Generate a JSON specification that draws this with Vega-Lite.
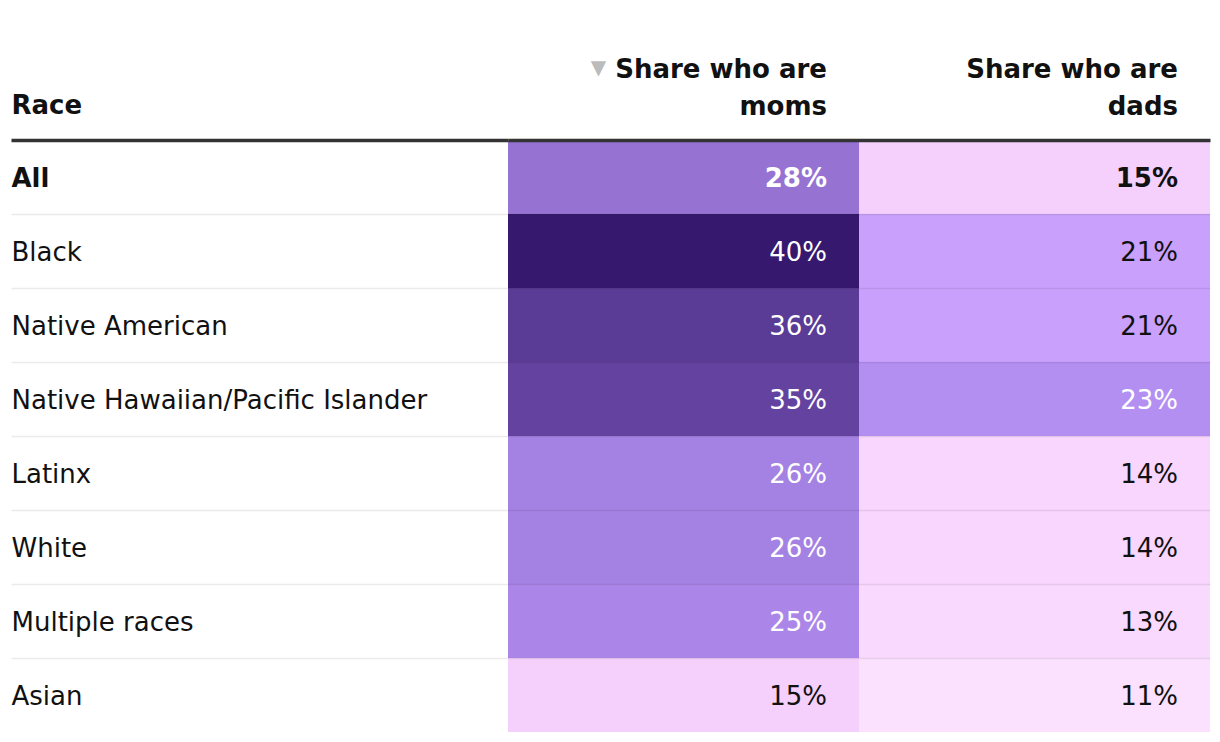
{
  "$schema": "https://vega.github.io/schema/vega-lite/v6.json",
  "autosize": {"type": "none"},
  "padding": {"left": 508, "top": 140, "right": 10, "bottom": 10},
  "width": 702,
  "height": 592,
  "background": "white",
  "config": {"view": {"stroke": null}, "font": "DejaVu Sans"},
  "data": {
    "values": [
      {"Race": "All", "moms": 0.28, "dads": 0.15},
      {"Race": "Black", "moms": 0.40, "dads": 0.21},
      {"Race": "Native American", "moms": 0.36, "dads": 0.21},
      {"Race": "Native Hawaiian/Pacific Islander", "moms": 0.35, "dads": 0.23},
      {"Race": "Latinx", "moms": 0.26, "dads": 0.14},
      {"Race": "White", "moms": 0.26, "dads": 0.14},
      {"Race": "Multiple races", "moms": 0.25, "dads": 0.13},
      {"Race": "Asian", "moms": 0.15, "dads": 0.11}
    ]
  },
  "transform": [{"fold": ["moms", "dads"], "as": ["metric", "value"]}],
  "encoding": {
    "y": {
      "field": "Race",
      "type": "nominal",
      "sort": ["All", "Black", "Native American", "Native Hawaiian/Pacific Islander", "Latinx", "White", "Multiple races", "Asian"],
      "scale": {"paddingInner": 0, "paddingOuter": 0},
      "axis": {
        "orient": "left",
        "zindex": 1,
        "domain": false,
        "bandPosition": 0,
        "ticks": true,
        "tickSize": 497,
        "tickColor": {"condition": {"test": "datum.value === 'All'", "value": "#333333"}, "value": "#000000"},
        "tickOpacity": {"condition": {"test": "datum.value === 'All'", "value": 1}, "value": 0.08},
        "tickWidth": {"condition": {"test": "datum.value === 'All'", "value": 3.5}, "value": 1.5},
        "grid": true,
        "gridColor": {"condition": {"test": "datum.value === 'All'", "value": "#333333"}, "value": "#000000"},
        "gridOpacity": {"condition": {"test": "datum.value === 'All'", "value": 1}, "value": 0.08},
        "gridWidth": {"condition": {"test": "datum.value === 'All'", "value": 3.5}, "value": 1.5},
        "labelPadding": 0,
        "labelAlign": "left",
        "labelBaseline": "middle",
        "labelOffset": 2,
        "labelFontSize": 26,
        "labelFont": "DejaVu Sans",
        "labelColor": "#111111",
        "labelFontWeight": {"condition": {"test": "datum.value === 'All'", "value": "bold"}, "value": "normal"},
        "labelLimit": 480,
        "labelOverlap": false,
        "labelBound": false,
        "title": "Race",
        "titleAngle": 0,
        "titleX": -497,
        "titleY": -27,
        "titleAlign": "left",
        "titleBaseline": "alphabetic",
        "titleFontSize": 26,
        "titleFontWeight": "bold",
        "titleFont": "DejaVu Sans",
        "titleColor": "#111111"
      }
    },
    "x": {
      "field": "metric",
      "type": "nominal",
      "sort": ["moms", "dads"],
      "scale": {"paddingInner": 0, "paddingOuter": 0},
      "axis": {
        "orient": "top",
        "domain": false,
        "ticks": false,
        "grid": false,
        "labelOffset": 143.5,
        "labelAlign": "right",
        "labelAngle": 0,
        "labelBaseline": "alphabetic",
        "labelPadding": 63,
        "labelLineHeight": 37,
        "labelFontSize": 26,
        "labelFontWeight": "bold",
        "labelFont": "DejaVu Sans",
        "labelColor": "#111111",
        "labelLimit": 400,
        "labelExpr": "datum.value === 'moms' ? ['Share who are', 'moms'] : ['Share who are', 'dads']",
        "labelOverlap": false,
        "labelBound": false,
        "labelFlush": false,
        "title": "▼",
        "titleX": 90,
        "titleY": -73,
        "titleAlign": "center",
        "titleBaseline": "middle",
        "titleFont": "DejaVu Sans",
        "titleFontSize": 20,
        "titleFontWeight": "normal",
        "titleColor": "#bbbbbb"
      }
    }
  },
  "layer": [
    {
      "mark": {"type": "rect"},
      "encoding": {
        "color": {
          "field": "value",
          "type": "quantitative",
          "legend": null,
          "scale": {
            "type": "linear",
            "interpolate": "rgb",
            "domain": [0.11, 0.13, 0.14, 0.15, 0.21, 0.23, 0.25, 0.26, 0.28, 0.35, 0.36, 0.40],
            "range": ["#fbe1fd", "#f9d9fd", "#f8d6fd", "#f6d0fc", "#c9a0fc", "#b48ff2", "#ab86e8", "#a482e3", "#9673d3", "#6443a0", "#5a3c96", "#36196e"]
          }
        }
      }
    },
    {
      "transform": [{"filter": "datum.Race !== 'All'"}],
      "mark": {"type": "text", "align": "right", "baseline": "middle", "dx": -32, "dy": 2, "fontSize": 26, "font": "DejaVu Sans"},
      "encoding": {
        "x": {"field": "metric", "type": "nominal", "sort": ["moms", "dads"], "bandPosition": 1},
        "text": {"field": "value", "type": "quantitative", "format": ".0%"},
        "color": {"condition": {"test": "datum.value >= 0.23", "value": "#ffffff"}, "value": "#111111"}
      }
    },
    {
      "transform": [{"filter": "datum.Race === 'All'"}],
      "mark": {"type": "text", "align": "right", "baseline": "middle", "dx": -32, "dy": 2, "fontSize": 26, "font": "DejaVu Sans", "fontWeight": "bold"},
      "encoding": {
        "x": {"field": "metric", "type": "nominal", "sort": ["moms", "dads"], "bandPosition": 1},
        "text": {"field": "value", "type": "quantitative", "format": ".0%"},
        "color": {"condition": {"test": "datum.value >= 0.23", "value": "#ffffff"}, "value": "#111111"}
      }
    }
  ]
}
